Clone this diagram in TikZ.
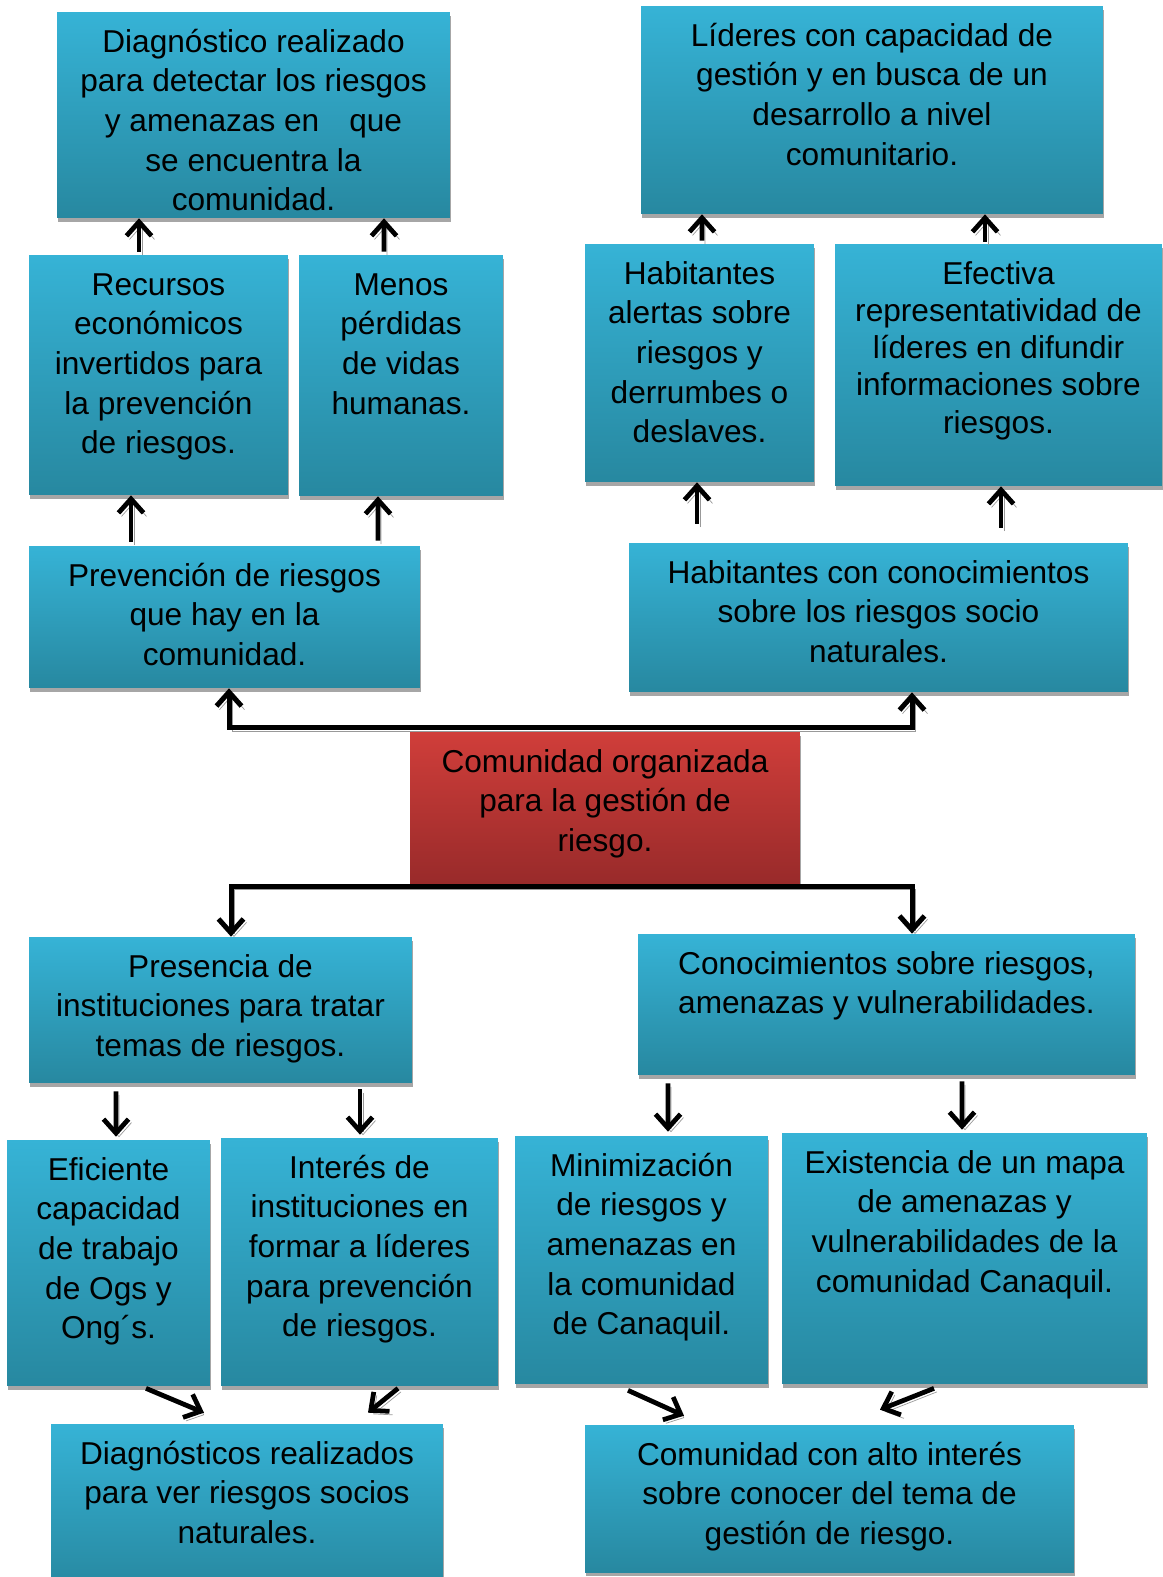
\documentclass[tikz,border=0pt]{standalone}
\usepackage{fontspec}
\setmainfont{Liberation Sans}
\usetikzlibrary{arrows.meta,shadows}
\definecolor{celeste}{RGB}{54,179,214}
\definecolor{celesteosc}{RGB}{39,136,160}
\definecolor{rojo}{RGB}{208,62,58}
\definecolor{rojoosc}{RGB}{152,42,42}
\newcommand{\caja}[3]{\parbox[c][#2][t]{#1}{\centering\rule{0pt}{0.8cm}#3}}

\begin{document}
\begin{tikzpicture}[x=0.02cm,y=-0.02cm]
                \tikzstyle{celda}=[rectangle, inner sep=0pt, top color=celeste, bottom color=celesteosc, font=\fontsize{18}{22.6}\selectfont, drop shadow={shadow xshift=0.02cm, shadow yshift=-0.08cm, fill=black!35, opacity=1}]
                \tikzstyle{celdaroja}=[celda, top color=rojo, bottom color=rojoosc, drop shadow={opacity=0}]
                \tikzstyle{flecha}=[line width=0.095cm, -{Straight Barb[length=0.28cm,width=0.5cm]}, preaction={draw=black!40, transform canvas={shift={(0.06cm,-0.07cm)}}}]
                \tikzstyle{rama}=[flecha, line width=0.1cm]

                \useasboundingbox (0,0) rectangle (1162,1577);

                \node[celda] (a) at (253.5,115) {\caja{7.86cm}{4.12cm}{Diagnóstico realizado\\para detectar los riesgos\\y amenazas en\hspace{0.95em}que\\se encuentra la\\comunidad.}};
                \node[celda] (b) at (872,110) {\caja{9.24cm}{4.16cm}{Líderes con capacidad de\\gestión y en busca de un\\desarrollo a nivel\\comunitario.}};
                \node[celda] (c) at (158.5,375) {\caja{5.18cm}{4.8cm}{Recursos\\económicos\\invertidos para\\la prevención\\de riesgos.}};
                \node[celda] (d) at (401,375.5) {\caja{4.08cm}{4.82cm}{Menos\\pérdidas\\de vidas\\humanas.}};
                \node[celda] (e) at (699.5,363) {\caja{4.58cm}{4.76cm}{Habitantes\\alertas sobre\\riesgos y\\derrumbes o\\deslaves.}};
                \node[celda, font=\fontsize{18}{21.2}\selectfont] (f) at (998.5,365) {\caja{6.54cm}{4.84cm}{Efectiva\\representatividad de\\líderes en difundir\\informaciones sobre\\riesgos.}};
                \node[celda] (g) at (224.5,617) {\caja{7.82cm}{2.84cm}{Prevención de riesgos\\que hay en la\\comunidad.}};
                \node[celda] (h) at (878.5,617.5) {\caja{9.98cm}{2.98cm}{Habitantes con conocimientos\\sobre los riesgos socio\\naturales.}};
                \node[celdaroja] (i) at (605,808.5) {\caja{7.8cm}{3.06cm}{Comunidad organizada\\para la gestión de\\riesgo.}};
                \node[celda] (j) at (220.5,1010) {\caja{7.66cm}{2.92cm}{Presencia de\\instituciones para tratar\\temas de riesgos.}};
                \node[celda] (k) at (886.5,1004.5) {\caja{9.94cm}{2.82cm}{Conocimientos sobre riesgos,\\amenazas y vulnerabilidades.}};
                \node[celda] (l) at (108.5,1263) {\caja{4.06cm}{4.92cm}{Eficiente\\capacidad\\de trabajo\\de Ogs y\\Ong´s.}};
                \node[celda] (m) at (359.5,1262) {\caja{5.54cm}{4.96cm}{Interés de\\instituciones en\\formar a líderes\\para prevención\\de riesgos.}};
                \node[celda] (n) at (641.5,1260) {\caja{5.06cm}{4.96cm}{Minimización\\de riesgos y\\amenazas en\\la comunidad\\de Canaquil.}};
                \node[celda] (o) at (964.5,1258.5) {\caja{7.3cm}{5.02cm}{Existencia de un mapa\\de amenazas y\\vulnerabilidades de la\\comunidad Canaquil.}};
                \node[celda] (p) at (247,1507) {\caja{7.84cm}{3.32cm}{Diagnósticos realizados\\para ver riesgos socios\\naturales.}};
                \node[celda] (q) at (829.5,1498.5) {\caja{9.78cm}{2.94cm}{Comunidad con alto interés\\sobre conocer del tema de\\gestión de riesgo.}};

                \draw[rama] ([shift={(0,-4)}]i.north) -| ([shift={(4.5,0)}]g.south);
                \draw[rama] ([shift={(0,-4)}]i.north) -| ([shift={(33.5,0)}]h.south);
                \draw[rama] ([shift={(0,1)}]i.south) -| ([shift={(10.5,0)}]j.north);
                \draw[rama] ([shift={(0,1)}]i.south) -| ([shift={(25.5,0)}]k.north);

                \draw[flecha] ([shift={(-19.5,-3)}]c.north) -- ([shift={(-114.5,0)}]a.south);
                \draw[flecha] ([shift={(-17,-3)}]d.north) -- ([shift={(130.5,0)}]a.south);
                \draw[flecha] ([shift={(2.5,-3)}]e.north) -- ([shift={(-170,0)}]b.south);
                \draw[flecha] ([shift={(-13.5,-2)}]f.north) -- ([shift={(113,0)}]b.south);
                \draw[flecha] ([shift={(-93.5,-4)}]g.north) -- ([shift={(-27.5,0)}]c.south);
                \draw[flecha] ([shift={(153.5,-5)}]g.north) -- ([shift={(-23,0)}]d.south);
                \draw[flecha] ([shift={(-181.5,-19)}]h.north) -- ([shift={(-2.5,0)}]e.south);
                \draw[flecha] ([shift={(122.5,-15)}]h.north) -- ([shift={(2.5,0)}]f.south);

                \draw[flecha] ([shift={(-104.5,8)}]j.south) -- ([shift={(7.5,-3)}]l.north);
                \draw[flecha] ([shift={(139.5,6)}]j.south) -- ([shift={(0.5,-3)}]m.north);
                \draw[flecha] ([shift={(-218.5,8)}]k.south) -- ([shift={(26.5,-4)}]n.north);
                \draw[flecha] ([shift={(75.5,6)}]k.south) -- ([shift={(-2.5,-3)}]o.north);

                \draw[flecha] ([shift={(37.5,2)}]l.south) -- ([shift={(-43,-11)}]p.north);
                \draw[flecha] ([shift={(38.5,2)}]m.south) -- ([shift={(121,-11)}]p.north);
                \draw[flecha] ([shift={(-13.5,6)}]n.south) -- ([shift={(-145.5,-9)}]q.north);
                \draw[flecha] ([shift={(-30.5,4)}]o.south) -- ([shift={(50.5,-15)}]q.north);
\end{tikzpicture}
\end{document}
